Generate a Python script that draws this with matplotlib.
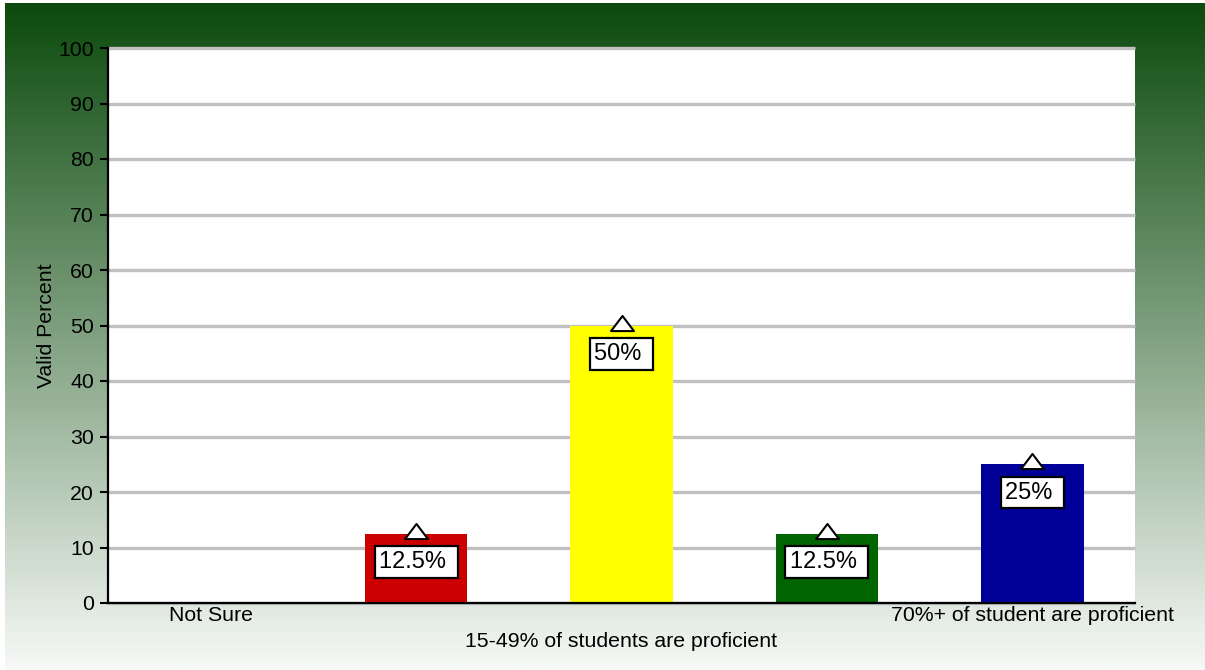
import numpy as np
import matplotlib
matplotlib.use("Agg")
import matplotlib.pyplot as plt
from matplotlib.path import Path

plt.rcParams['font.family'] = ['Liberation Sans', 'DejaVu Sans']

# ---- data ----
categories = ["Not Sure", "", "15-49% of students are proficient", "", "70%+ of student are proficient"]
values = [0, 12.5, 50, 12.5, 25]
bar_colors = ["#cc0000", "#cc0000", "#ffff00", "#006400", "#000099"]
yticks = [0, 10, 20, 30, 40, 50, 60, 70, 80, 90, 100]
ylabel = "Valid Percent"

W, H = 1205, 670
fig = plt.figure(figsize=(W / 100, H / 100), dpi=100)
fig.patch.set_facecolor("white")

# background gradient
bg = fig.add_axes([5 / W, 0, 1 - 5 / W, 1 - 3 / H], zorder=-10)
top = np.array([11, 74, 12]) / 255
bot = np.array([247, 249, 247]) / 255
t = np.linspace(0, 1, 400)[:, None]
grad = (top[None, :] * (1 - t) + bot[None, :] * t)[:, None, :]
bg.imshow(grad, aspect="auto", extent=[0, 1, 0, 1], interpolation="bilinear")
bg.axis("off")

# main axes
ax = fig.add_axes([108 / W, 1 - 603 / H, (1135 - 108) / W, (603 - 48) / H])
ax.set_facecolor("white")
x = np.arange(len(categories))
ax.set_xlim(-0.5, len(categories) - 0.5)
ax.set_ylim(0, 100)

ax.hlines(yticks, -0.5, len(categories) - 0.5, colors="#c0c0c0", linewidth=2.4,
          clip_on=False, zorder=0.5)

ax.bar(x, values, width=0.5, color=bar_colors, zorder=1)

tri = Path([(-1, -0.4), (1, -0.4), (0, 0.92), (-1, -0.4)],
           [Path.MOVETO, Path.LINETO, Path.LINETO, Path.CLOSEPOLY])
for xi, v in zip(x, values):
    if v <= 0:
        continue
    ax.plot([xi], [v], marker=tri, markersize=16.5, markerfacecolor="white",
            markeredgecolor="black", markeredgewidth=1.5, linestyle="none",
            zorder=4, clip_on=False)
    ax.annotate(f"{v:g}% ", xy=(xi, v), xytext=(0, -20.5), textcoords="offset points",
                ha="center", va="center", fontsize=17, color="black", zorder=5,
                bbox=dict(boxstyle="square,pad=0.2", fc="white", ec="black", lw=1.6))

for s in ["top", "right"]:
    ax.spines[s].set_visible(False)
for s in ["left", "bottom"]:
    ax.spines[s].set_linewidth(1.6)
    ax.spines[s].set_color("black")
    ax.spines[s].set_zorder(3)

ax.set_yticks(yticks)
ax.set_yticklabels([str(v) for v in yticks])
ax.tick_params(axis="y", length=6, width=1.5, pad=4, labelsize=15.3, colors="black")

row1 = [i for i in (0, 4)]
row2 = [2]
ax.set_xticks([x[i] for i in row1])
ax.set_xticklabels([categories[i] for i in row1])
ax.set_xticks([x[i] for i in row2], minor=True)
ax.set_xticklabels([categories[i] for i in row2], minor=True)
ax.tick_params(axis="x", which="major", length=0, pad=2.5, labelsize=15.3)
ax.tick_params(axis="x", which="minor", length=0, pad=21, labelsize=15.3)

ax.set_ylabel(ylabel, fontsize=15.3)
ax.yaxis.set_label_coords(-0.0506, 0.5)

fig.savefig("out.png", dpi=100, facecolor=fig.get_facecolor())
